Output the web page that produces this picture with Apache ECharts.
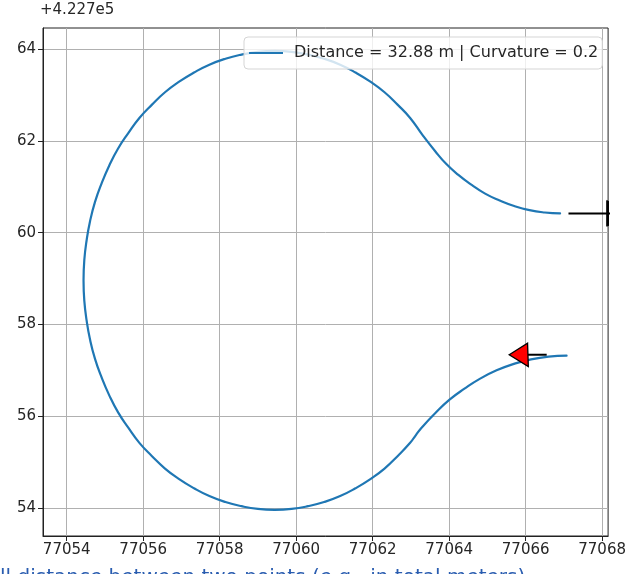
<!DOCTYPE html>
<html>
<head>
<meta charset="utf-8">
<script src="https://cdn.jsdelivr.net/npm/echarts@6/dist/echarts.min.js"></script>
<style>
html,body{margin:0;padding:0;background:#fff;}
#chart{width:629px;height:574px;}
</style>
</head>
<body>
<div id="chart"></div>
<script>
// Tick labels
const xTicks = [77054, 77056, 77058, 77060, 77062, 77064, 77066, 77068];
const yTicks = [54, 56, 58, 60, 62, 64];
const offsetText = '+4.227e5';
const legendLabel = 'Distance = 32.88 m | Curvature = 0.2';
const captionText = 'll distance between two points (e.g., in total meters)';

// Path (x, y relative to offset +4.227e5)
const pathPoints = [
  [77066.90, 60.42], [77066.50, 60.44], [77066.10, 60.49], [77065.70, 60.58], [77065.32, 60.70],
  [77064.94, 60.85], [77064.59, 61.04], [77064.24, 61.26], [77063.92, 61.50], [77063.63, 61.78],
  [77063.31, 62.12],
  [77062.98, 62.50], [77062.65, 62.79], [77062.31, 63.06], [77061.94, 63.29], [77061.55, 63.49],
  [77061.15, 63.66], [77060.73, 63.79], [77060.31, 63.88], [77059.88, 63.94], [77059.44, 63.96],
  [77059.00, 63.94], [77058.57, 63.88], [77058.15, 63.79], [77057.73, 63.66], [77057.33, 63.49],
  [77056.94, 63.29], [77056.57, 63.06], [77056.23, 62.79], [77055.90, 62.50], [77055.61, 62.17],
  [77055.34, 61.83], [77055.11, 61.46], [77054.91, 61.07], [77054.74, 60.67], [77054.61, 60.25],
  [77054.52, 59.83], [77054.46, 59.40], [77054.44, 58.96], [77054.46, 58.52], [77054.52, 58.09],
  [77054.61, 57.67], [77054.74, 57.25], [77054.91, 56.85], [77055.11, 56.46], [77055.34, 56.09],
  [77055.61, 55.75], [77055.90, 55.42], [77056.23, 55.13], [77056.57, 54.86], [77056.94, 54.63],
  [77057.33, 54.43], [77057.73, 54.26], [77058.15, 54.13], [77058.57, 54.04], [77059.00, 53.98],
  [77059.44, 53.96], [77059.88, 53.98], [77060.31, 54.04], [77060.73, 54.13], [77061.15, 54.26],
  [77061.55, 54.43], [77061.94, 54.63], [77062.31, 54.86], [77062.65, 55.13], [77062.98, 55.42],
  [77063.13, 55.59],
  [77063.29, 55.76], [77063.64, 56.07], [77064.01, 56.36], [77064.40, 56.60], [77064.81, 56.82],
  [77065.24, 57.00], [77065.69, 57.14], [77066.14, 57.24], [77066.60, 57.30], [77067.07, 57.32]
];

// Start arrow (black, clipped at right edge)
const startStem = [[77067.12, 60.42], [77068.3, 60.42]];
const startHead = [[77068.12, 60.14], [77068.12, 60.70], [77068.8, 60.42]];
// End arrow (red head)
const endStem = [[77066.05, 57.34], [77066.55, 57.34]];
const endHead = [[77065.57, 57.34], [77066.05, 57.59], [77066.07, 57.08]];

const chart = echarts.init(document.getElementById('chart'), null, {renderer: 'canvas'});

const font = 'DejaVu Sans';
function makePolygonSeries(pts, fill, stroke, lw, z) {
  return {
    type: 'custom',
    clip: true,
    z: z,
    silent: true,
    data: [0],
    renderItem: function (params, api) {
      return {
        type: 'polygon',
        shape: { points: pts.map(p => api.coord(p)) },
        style: { fill: fill, stroke: stroke, lineWidth: lw }
      };
    }
  };
}

const option = {
  animation: false,
  backgroundColor: '#ffffff',
  grid: {
    left: 43, right: 18, top: 28, bottom: 38,
    show: true, borderColor: '#222', borderWidth: 1, backgroundColor: 'transparent'
  },
  xAxis: {
    type: 'value',
    min: 77053.38, max: 77068.156,
    axisLine: { show: true, lineStyle: { color: '#222', width: 1 } },
    axisTick: { show: true, length: 5, inside: false, lineStyle: { color: '#222' }, customValues: xTicks },
    axisLabel: {
      customValues: xTicks, color: '#262626', fontFamily: font, fontSize: 15, margin: 7,
      formatter: v => String(v)
    },
    splitLine: { show: true, lineStyle: { color: '#b0b0b0', width: 1 } }
  },
  yAxis: {
    type: 'value',
    min: 53.39, max: 64.46,
    axisLine: { show: true, lineStyle: { color: '#222', width: 1 } },
    axisTick: { show: true, length: 5, inside: false, lineStyle: { color: '#222' }, customValues: yTicks },
    axisLabel: {
      customValues: yTicks, color: '#262626', fontFamily: font, fontSize: 15, margin: 7,
      formatter: v => String(v)
    },
    splitLine: { show: true, lineStyle: { color: '#b0b0b0', width: 1 } }
  },
  legend: {
    data: [{ name: legendLabel, icon: 'path://M0,0 L34,0 L34,2 L0,2 Z', itemStyle: { color: '#1f77b4' } }],
    left: 244, top: 37,
    padding: [8, 4, 8, 5],
    itemWidth: 34, itemHeight: 2.2, itemGap: 10,
    backgroundColor: 'rgba(255,255,255,0.8)',
    borderColor: '#d5d5d5', borderWidth: 1, borderRadius: 4,
    textStyle: { color: '#262626', fontFamily: font, fontSize: 16, padding: [0, 0, 0, 6] }
  },
  graphic: [
    { type: 'text', left: 40, top: 3, style: { text: offsetText, font: '15px "DejaVu Sans"', fill: '#262626' } },
    { type: 'text', left: 0, top: 568, style: { text: captionText, font: '20px "DejaVu Sans"', fill: '#2a5db0' } }
  ],
  series: [
    {
      name: legendLabel,
      type: 'custom',
      clip: true,
      z: 3,
      silent: true,
      data: [0],
      itemStyle: { color: '#1f77b4' },
      renderItem: function (params, api) {
        return {
          type: 'polyline',
          shape: { points: pathPoints.map(p => api.coord(p)), smooth: 0.5, smoothConstraint: false },
          style: { fill: null, stroke: '#1f77b4', lineWidth: 2.2, lineJoin: 'round', lineCap: 'round' }
        };
      }
    },
    {
      type: 'line', data: startStem, showSymbol: false, symbol: 'none',
      lineStyle: { color: '#000', width: 2 }, z: 4, silent: true
    },
    makePolygonSeries(startHead, '#000', '#000', 1, 5),
    {
      type: 'line', data: endStem, showSymbol: false, symbol: 'none',
      lineStyle: { color: '#000', width: 2 }, z: 4, silent: true
    },
    makePolygonSeries(endHead, '#ff0000', '#000', 1.3, 5)
  ]
};
chart.setOption(option);
</script>
</body>
</html>
